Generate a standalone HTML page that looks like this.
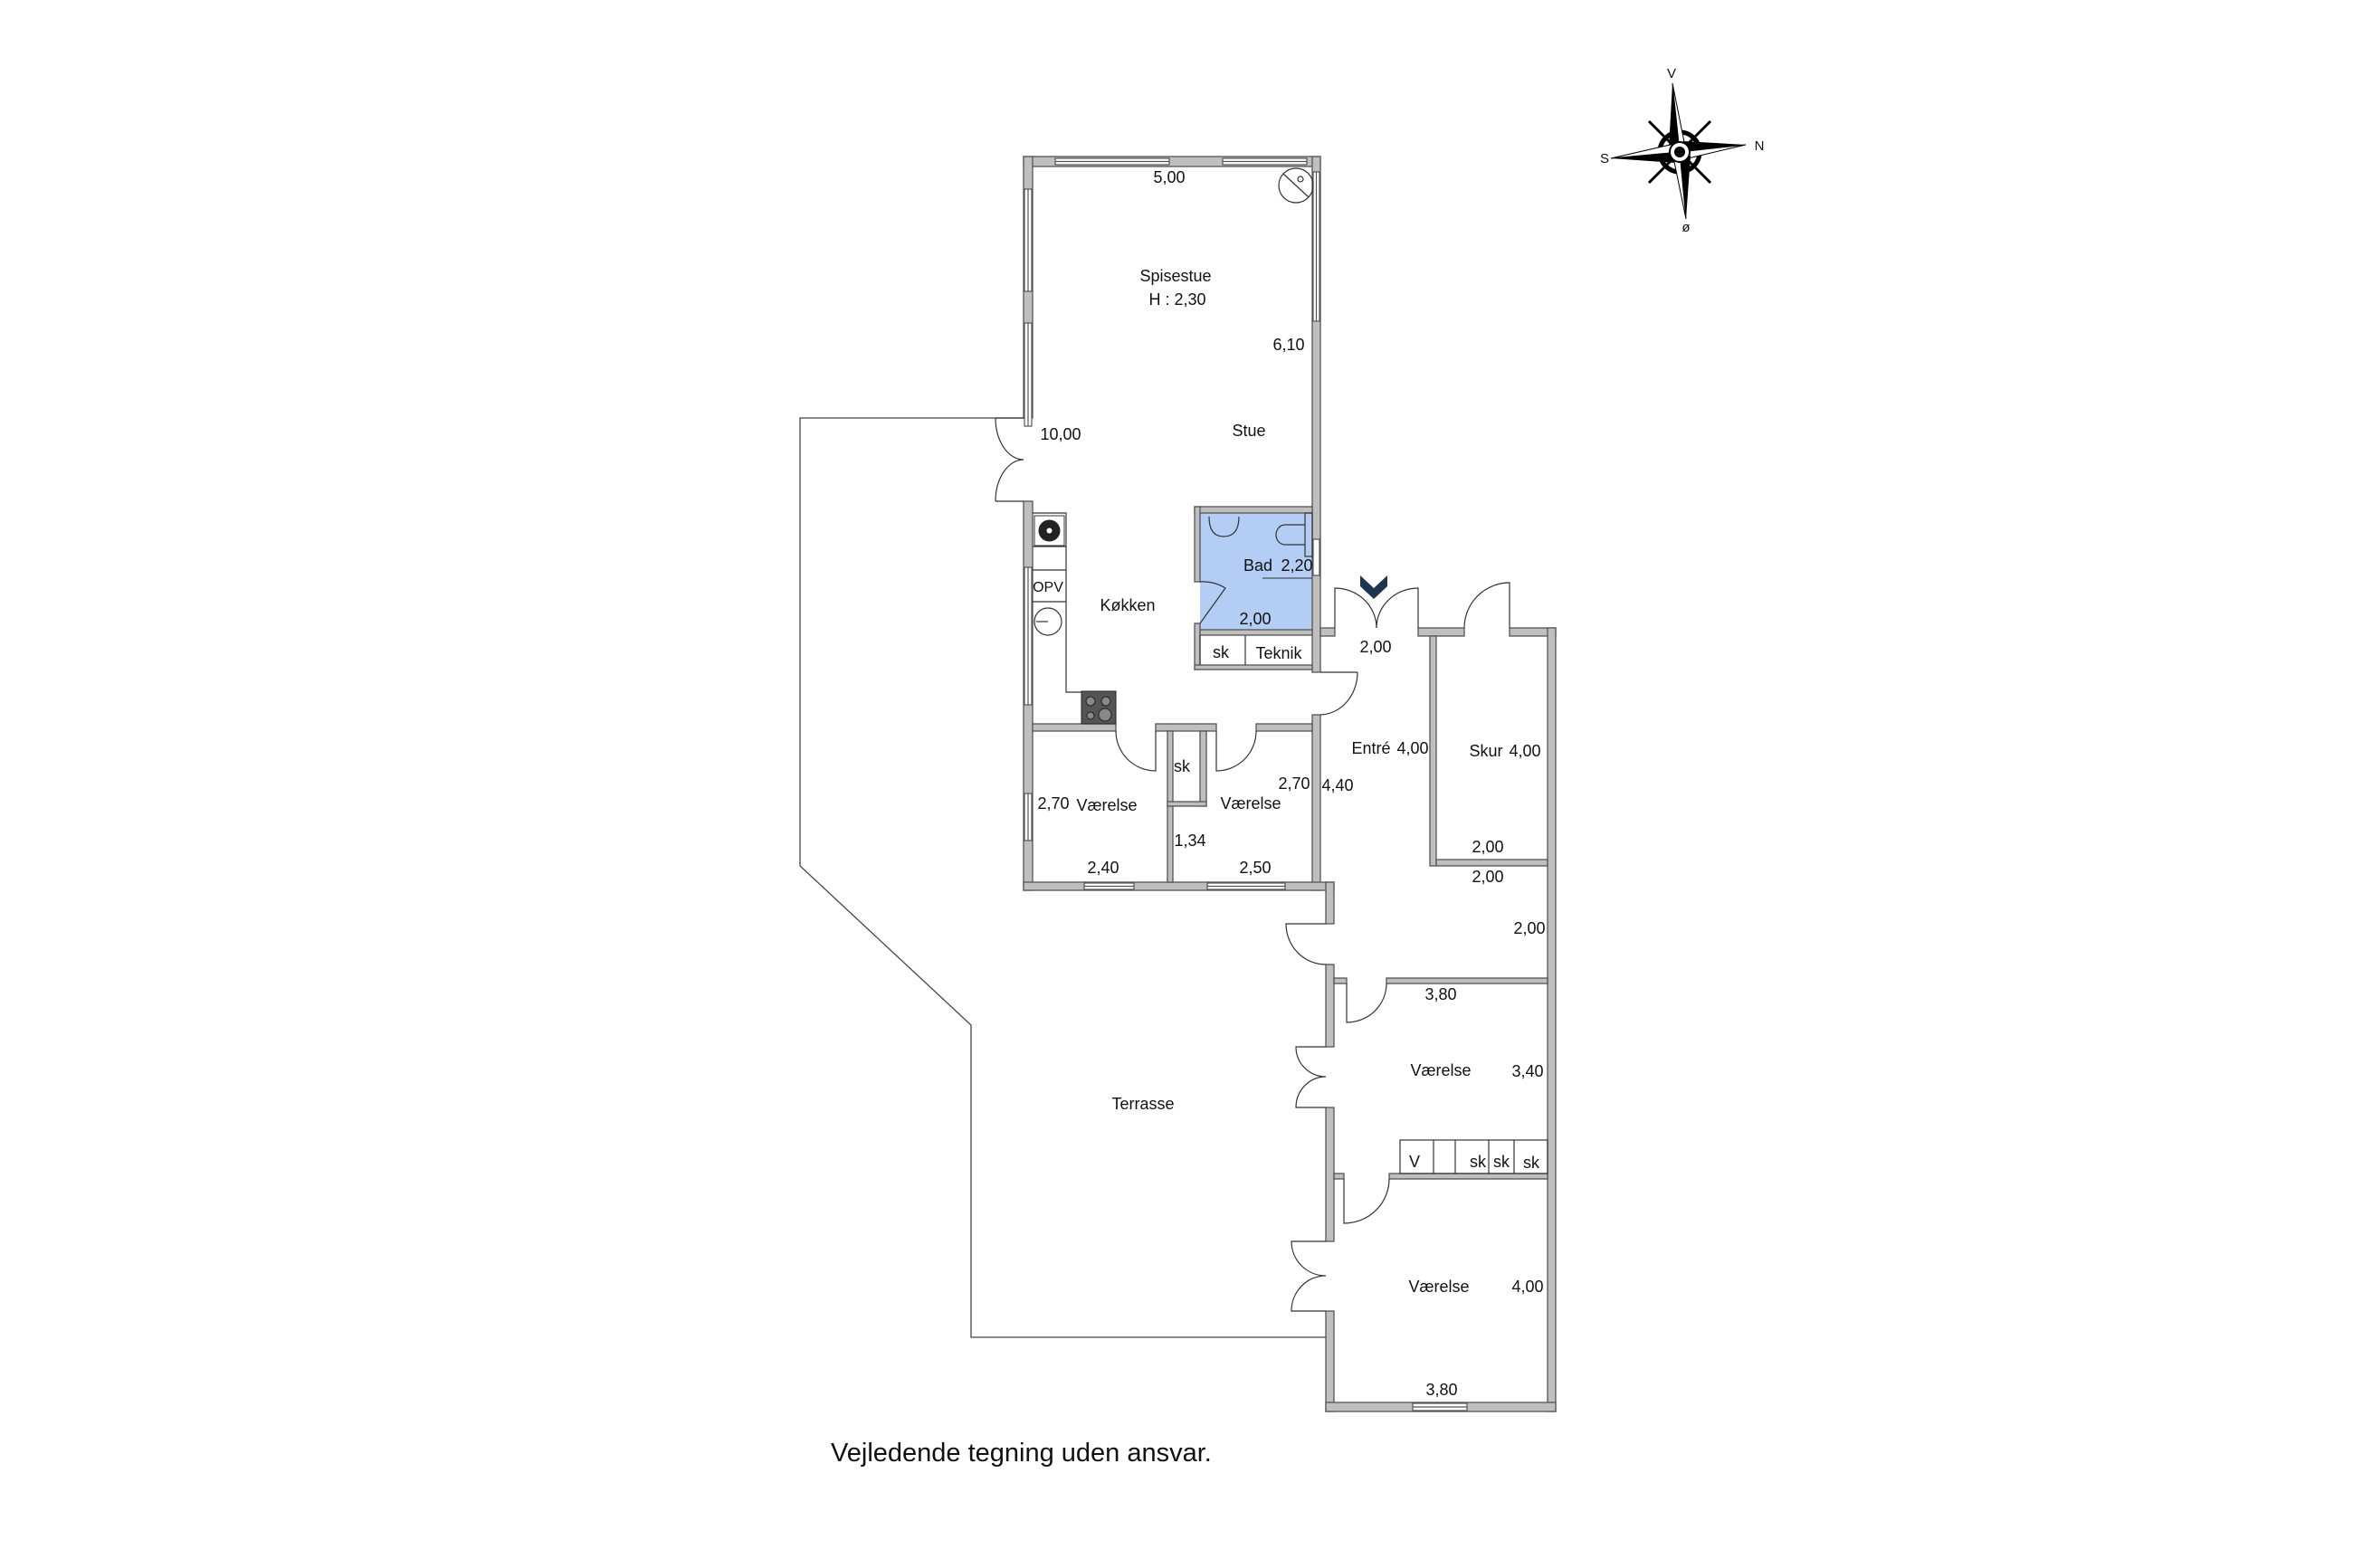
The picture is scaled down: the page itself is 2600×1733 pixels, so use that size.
<!DOCTYPE html>
<html><head><meta charset="utf-8"><style>
html,body{margin:0;padding:0;background:#fff;}
svg{display:block;}
text{font-family:"Liberation Sans",Arial,sans-serif;font-size:18px;fill:#111;}
</style></head><body>
<svg width="2600" height="1733" viewBox="0 0 2600 1733" xmlns="http://www.w3.org/2000/svg">
<polyline points="1131,462 884,462 884,957 1073,1133 1073,1478 1466,1478" fill="none" stroke="#444" stroke-width="1.3"/>
<rect x="1326" y="567" width="124" height="129" fill="#b3cdf5"/>
<g fill="#bfbfbf" stroke="#555" stroke-width="1.3">
<rect x="1131" y="173" width="328" height="11"/>
<rect x="1131" y="173" width="10" height="289"/>
<rect x="1131" y="554" width="10" height="430"/>
<rect x="1450" y="173" width="9" height="570"/>
<rect x="1450" y="790" width="9" height="194"/>
<rect x="1131" y="975" width="343" height="9"/>
<rect x="1141" y="800" width="92" height="8"/>
<rect x="1277" y="800" width="67" height="8"/>
<rect x="1388" y="800" width="62" height="8"/>
<rect x="1290" y="808" width="6" height="167"/>
<rect x="1326" y="808" width="7" height="83"/>
<rect x="1290" y="886" width="43" height="5"/>
<rect x="1320" y="560" width="130" height="7"/>
<rect x="1320" y="560" width="6" height="83"/>
<rect x="1320" y="689" width="6" height="51"/>
<rect x="1326" y="696" width="124" height="6"/>
<rect x="1320" y="735" width="130" height="5"/>
<rect x="1459" y="694" width="16" height="9"/>
<rect x="1567" y="694" width="51" height="9"/>
<rect x="1668" y="694" width="51" height="9"/>
<rect x="1580" y="703" width="7" height="254"/>
<rect x="1587" y="950" width="123" height="7"/>
<rect x="1710" y="694" width="9" height="866"/>
<rect x="1465" y="975" width="9" height="46"/>
<rect x="1465" y="1066" width="9" height="91"/>
<rect x="1465" y="1224" width="9" height="148"/>
<rect x="1465" y="1449" width="9" height="111"/>
<rect x="1465" y="1550" width="254" height="10"/>
<rect x="1474" y="1081" width="14" height="6"/>
<rect x="1532" y="1081" width="178" height="6"/>
<rect x="1474" y="1297" width="11" height="6"/>
<rect x="1535" y="1297" width="175" height="6"/>
</g>
<g fill="#fff" stroke="#555" stroke-width="1.2">
<rect x="1166" y="175" width="126" height="7"/><line x1="1166" y1="178.5" x2="1292" y2="178.5"/>
<rect x="1351" y="175" width="93" height="7"/><line x1="1351" y1="178.5" x2="1444" y2="178.5"/>
<rect x="1451" y="190" width="7" height="165"/><line x1="1454.5" y1="190" x2="1454.5" y2="355"/>
<rect x="1451" y="596" width="7" height="40"/>
<rect x="1132" y="209" width="8" height="113"/><line x1="1136" y1="209" x2="1136" y2="322"/>
<rect x="1132" y="357" width="8" height="114"/><line x1="1136" y1="357" x2="1136" y2="471"/>
<rect x="1132" y="627" width="8" height="152"/><line x1="1136" y1="627" x2="1136" y2="779"/>
<rect x="1132" y="877" width="8" height="52"/><line x1="1136" y1="877" x2="1136" y2="929"/>
<rect x="1198" y="976" width="55" height="7"/><line x1="1198" y1="979.5" x2="1253" y2="979.5"/>
<rect x="1334" y="976" width="86" height="7"/><line x1="1334" y1="979.5" x2="1420" y2="979.5"/>
<rect x="1561" y="1551" width="60" height="8"/><line x1="1561" y1="1555" x2="1621" y2="1555"/>
</g>
<g fill="none" stroke="#333" stroke-width="1.2">
<circle cx="1432" cy="205" r="19"/><line x1="1418" y1="192" x2="1446" y2="218"/><circle cx="1437" cy="198" r="3"/>
<polyline points="1141,567 1178,567 1178,765 1233,765"/>
<line x1="1141" y1="604" x2="1178" y2="604"/>
<line x1="1141" y1="630" x2="1178" y2="630"/>
<line x1="1141" y1="665" x2="1178" y2="665"/>
<circle cx="1158" cy="687" r="15"/><line x1="1145" y1="687" x2="1158" y2="687"/>
<path d="M1336,571 Q1336,593 1352,593 Q1369,593 1369,571"/>
<rect x="1442" y="567" width="8" height="48"/>
<path d="M1442,580 L1420,580 A10,11 0 0 0 1420,602 L1442,602"/>
<line x1="1395" y1="639" x2="1450" y2="639" stroke-width="1"/>
<line x1="1326" y1="702" x2="1326" y2="735"/><line x1="1376" y1="702" x2="1376" y2="735"/>
<rect x="1547" y="1260" width="163" height="37"/>
<line x1="1584" y1="1260" x2="1584" y2="1297"/><line x1="1608" y1="1260" x2="1608" y2="1297"/>
<line x1="1645" y1="1260" x2="1645" y2="1297"/><line x1="1673" y1="1260" x2="1673" y2="1297"/>
<line x1="1131" y1="462" x2="1100" y2="462"/><path d="M1100,462 A31,46 0 0 0 1131,508"/>
<line x1="1131" y1="554" x2="1100" y2="554"/><path d="M1100,554 A31,46 0 0 1 1131,508"/>
<line x1="1459" y1="743" x2="1500" y2="743"/><path d="M1500,743 A42,47 0 0 1 1459,790"/>
<path d="M1233,808 A44,44 0 0 0 1277,852 L1277,808"/>
<path d="M1388,808 A44,44 0 0 1 1344,852 L1344,808"/>
<path d="M1475,694 L1475,650 A46,44 0 0 1 1521,694"/>
<path d="M1567,694 L1567,650 A46,44 0 0 0 1521,694"/>
<path d="M1668,694 L1668,644 A50,50 0 0 0 1618,694"/>
<path d="M1326,689 L1354,650 A48,48 0 0 0 1326,643"/>
<path d="M1465,1021 L1421,1021 A44,45 0 0 0 1465,1066"/>
<path d="M1465,1157 L1432,1157 A33,33 0 0 0 1465,1190 A33,34 0 0 0 1432,1224 L1465,1224"/>
<path d="M1465,1372 L1427,1372 A38,38 0 0 0 1465,1410 A38,39 0 0 0 1427,1449 L1465,1449"/>
<path d="M1488,1087 L1488,1130 A44,43 0 0 0 1532,1087"/>
<path d="M1485,1303 L1485,1352 A50,49 0 0 0 1535,1303"/>
</g>
<rect x="1143" y="570" width="33" height="33" fill="#fff" stroke="#333"/>
<circle cx="1159.5" cy="586.5" r="12" fill="#222"/><circle cx="1159.5" cy="586.5" r="3" fill="#fff"/>
<rect x="1195" y="764" width="38" height="36" fill="#555" stroke="#222"/>
<circle cx="1205" cy="775" r="5" fill="#888" stroke="#222"/><circle cx="1222" cy="775" r="5" fill="#888" stroke="#222"/>
<circle cx="1205" cy="791" r="4" fill="#888" stroke="#222"/><circle cx="1221" cy="790" r="7" fill="#888" stroke="#222"/>
<polygon points="1503,636 1518,650 1533,636 1533,648 1518,662 1503,648" fill="#1c3550"/>
<g>
<circle cx="1856" cy="168" r="22" fill="none" stroke="#000" stroke-width="5"/>
<g stroke="#000" stroke-width="3"><line x1="1822" y1="134" x2="1890" y2="202"/><line x1="1890" y1="134" x2="1822" y2="202"/></g>
<polygon points="1848,92 1856,168 1844,164" fill="#000"/><polygon points="1848,92 1856,168 1862,162" fill="#fff" stroke="#000"/>
<polygon points="1929,160 1856,168 1860,156" fill="#000"/><polygon points="1929,160 1856,168 1861,176" fill="#fff" stroke="#000"/>
<polygon points="1780,175 1856,168 1852,180" fill="#000"/><polygon points="1780,175 1856,168 1850,159" fill="#fff" stroke="#000"/>
<polygon points="1863,242 1856,168 1868,172" fill="#000"/><polygon points="1863,242 1856,168 1849,174" fill="#fff" stroke="#000"/>
<circle cx="1856" cy="168" r="11" fill="#fff" stroke="#000" stroke-width="2"/>
<circle cx="1856" cy="168" r="6" fill="#000"/>
</g>
<g>
<text x="1847" y="86" text-anchor="middle" style="font-size:15px">V</text>
<text x="1944" y="166" text-anchor="middle" style="font-size:15px">N</text>
<text x="1773" y="180" text-anchor="middle" style="font-size:15px">S</text>
<text x="1863" y="256" text-anchor="middle" style="font-size:15px">ø</text>
</g>
<g text-anchor="middle">
<text x="1292" y="202">5,00</text>
<text x="1299" y="311">Spisestue</text>
<text x="1301" y="337">H : 2,30</text>
<text x="1424" y="387">6,10</text>
<text x="1172" y="486">10,00</text>
<text x="1380" y="482">Stue</text>
<text x="1390" y="631">Bad</text>
<text x="1433" y="631">2,20</text>
<text x="1246" y="675">Køkken</text>
<text x="1158" y="654" style="font-size:16px">OPV</text>
<text x="1387" y="690">2,00</text>
<text x="1349" y="727">sk</text>
<text x="1413" y="728">Teknik</text>
<text x="1520" y="721">2,00</text>
<text x="1515" y="833">Entré</text>
<text x="1561" y="833">4,00</text>
<text x="1642" y="836">Skur</text>
<text x="1685" y="836">4,00</text>
<text x="1164" y="894">2,70</text>
<text x="1223" y="896">Værelse</text>
<text x="1306" y="853">sk</text>
<text x="1382" y="894">Værelse</text>
<text x="1430" y="872">2,70</text>
<text x="1478" y="874">4,40</text>
<text x="1315" y="935">1,34</text>
<text x="1219" y="965">2,40</text>
<text x="1387" y="965">2,50</text>
<text x="1644" y="942">2,00</text>
<text x="1644" y="975">2,00</text>
<text x="1690" y="1032">2,00</text>
<text x="1592" y="1105">3,80</text>
<text x="1592" y="1189">Værelse</text>
<text x="1688" y="1190">3,40</text>
<text x="1563" y="1290">V</text>
<text x="1633" y="1290">sk</text>
<text x="1659" y="1290">sk</text>
<text x="1692" y="1291">sk</text>
<text x="1263" y="1226">Terrasse</text>
<text x="1590" y="1428">Værelse</text>
<text x="1688" y="1428">4,00</text>
<text x="1593" y="1542">3,80</text>
</g>
<text x="918" y="1615" style="font-size:29px">Vejledende tegning uden ansvar.</text>
</svg>
</body></html>
